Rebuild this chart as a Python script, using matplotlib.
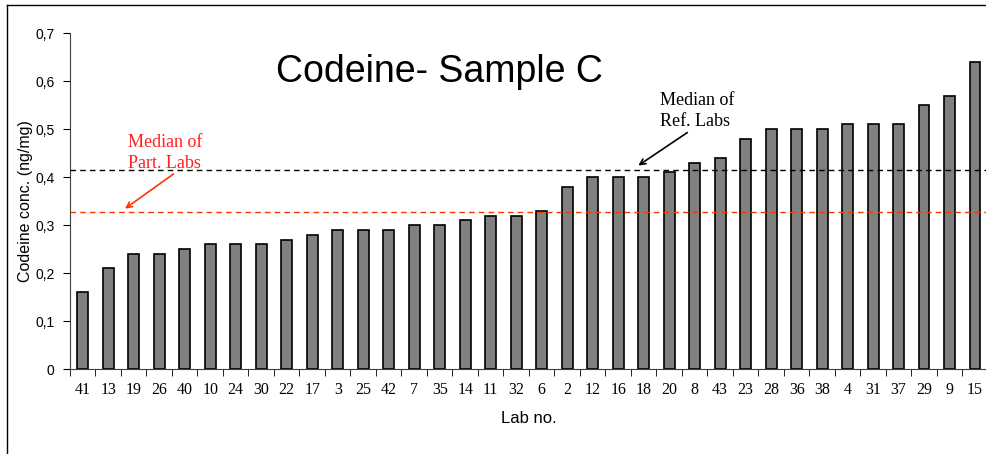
import matplotlib
matplotlib.use("Agg")
import matplotlib.pyplot as plt
from matplotlib.lines import Line2D
import numpy as np

labs = ["41", "13", "19", "26", "40", "10", "24", "30", "22", "17",
        "3", "25", "42", "7", "35", "14", "11", "32", "6", "2",
        "12", "16", "18", "20", "8", "43", "23", "28", "36", "38",
        "4", "31", "37", "29", "9", "15"]
conc = [0.16, 0.21, 0.24, 0.24, 0.25, 0.26, 0.26, 0.26, 0.27, 0.28,
        0.29, 0.29, 0.29, 0.30, 0.30, 0.31, 0.32, 0.32, 0.33, 0.38,
        0.40, 0.40, 0.40, 0.41, 0.43, 0.44, 0.48, 0.50, 0.50, 0.50,
        0.51, 0.51, 0.51, 0.55, 0.57, 0.64]
median_ref = 0.415
median_part = 0.327

sans = "Liberation Sans"
serif = "Liberation Serif"

fig = plt.figure(figsize=(9.87, 4.54), dpi=100)
ax = fig.add_axes([0.0709, 0.187, 0.930, 0.740])

x = np.arange(len(labs))
ax.bar(x, conc, width=0.42, color="#808080", edgecolor="black", linewidth=1.2, zorder=2)

ax.axhline(median_ref, color="black", linestyle=(0, (4, 3)), linewidth=1, zorder=3)
ax.axhline(median_part, color="#FF3300", linestyle=(0, (4, 3)), linewidth=1, zorder=3)

ax.set_xlim(-0.5, len(labs) - 0.5)
ax.set_ylim(0, 0.7)
ax.set_yticks(np.arange(0, 0.71, 0.1))
ax.set_yticklabels(["0", "0,1", "0,2", "0,3", "0,4", "0,5", "0,6", "0,7"],
                   fontfamily=sans, fontsize=10)
ax.set_xticks(x)
ax.set_xticklabels(labs, fontfamily=serif, fontsize=11.5)
ax.set_xticks(np.arange(-0.5, len(labs), 1), minor=True)
ax.tick_params(axis="x", which="major", length=0, pad=9)
ax.tick_params(axis="x", which="minor", length=5, direction="out")
ax.tick_params(axis="y", length=5, direction="out", pad=6)

for s in ["top", "right"]:
    ax.spines[s].set_visible(False)
ax.spines["left"].set_color("#404040")
ax.spines["bottom"].set_color("#404040")

ax.set_xlabel("Lab no.", fontfamily=sans, fontsize=12, labelpad=10)
ax.set_ylabel("Codeine conc. (ng/mg)", fontfamily=sans, fontsize=11.5, labelpad=2)

ax.text(0.445, 0.841, "Codeine- Sample C", transform=fig.transFigure,
        fontfamily=sans, fontsize=27, ha="center", va="center")

ax.text(1.76, 0.45, "Median of\nPart. Labs", color="#FF2020", fontfamily=serif,
        fontsize=13, ha="left", va="center", linespacing=1.3)
ax.annotate("", xy=(1.57, 0.331), xytext=(3.65, 0.41),
            arrowprops=dict(arrowstyle="->", color="#FF3300", lw=1.2))

ax.text(22.65, 0.5375, "Median of\nRef. Labs", color="black", fontfamily=serif,
        fontsize=13, ha="left", va="center", linespacing=1.3)
ax.annotate("", xy=(21.7, 0.421), xytext=(23.8, 0.496),
            arrowprops=dict(arrowstyle="->", color="black", lw=1.2))

# outer frame (left and top edges only)
fig.add_artist(Line2D([7 / 987, 7 / 987], [0, 1 - 5 / 454], transform=fig.transFigure,
                      color="black", lw=1))
fig.add_artist(Line2D([7 / 987, 1], [1 - 5 / 454, 1 - 5 / 454], transform=fig.transFigure,
                      color="black", lw=1))

fig.savefig("out.png", dpi=100)
